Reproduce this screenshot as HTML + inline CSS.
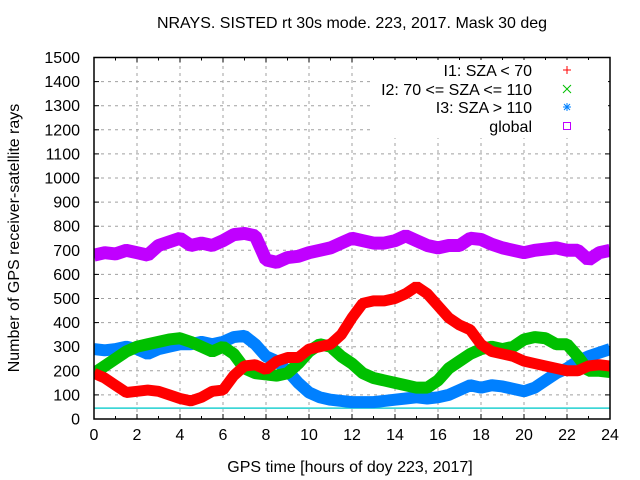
<!DOCTYPE html>
<html><head><meta charset="utf-8"><style>
body{margin:0;background:#fff}
svg{display:block;font-family:"Liberation Sans",sans-serif;font-size:16px}
</style></head><body>
<svg id="chart" width="640" height="480" xmlns="http://www.w3.org/2000/svg"></svg>
<script>
const hours=[0,0.5,1,1.5,2,2.5,3,3.5,4,4.5,5,5.5,6,6.5,7,7.5,8,8.5,9,9.5,10,10.5,11,11.5,12,12.5,13,13.5,14,14.5,15,15.5,16,16.5,17,17.5,18,18.5,19,19.5,20,20.5,21,21.5,22,22.5,23,23.5,24];
const i1=[190,170,140,110,115,120,115,100,85,75,90,115,120,180,220,225,205,240,255,255,290,300,310,350,420,480,490,490,500,520,550,520,470,420,390,370,310,280,270,260,240,230,220,210,200,200,220,225,220];
const i2=[190,220,250,280,300,310,320,330,335,320,300,280,300,270,210,190,185,180,190,230,280,310,300,260,230,190,170,160,150,140,130,130,160,210,240,270,290,300,290,300,330,340,335,310,310,260,200,200,195];
const i3=[290,285,290,300,290,270,290,300,310,310,320,310,320,340,345,310,260,240,200,150,110,90,80,75,70,70,70,75,80,85,90,85,90,100,120,140,130,140,135,125,115,130,160,190,210,240,260,275,290];
const globalRays=[680,690,685,700,690,680,720,735,750,720,730,720,740,765,770,760,660,650,670,675,690,700,710,730,750,740,730,730,740,760,740,720,710,720,720,750,745,725,710,700,690,700,705,710,700,700,660,690,700];
const maskLevel=[45,45];
const maskHours=[0,24];
const xTicks=[0,2,4,6,8,10,12,14,16,18,20,22,24];
const yTicks=[0,100,200,300,400,500,600,700,800,900,1000,1100,1200,1300,1400,1500];

const NS="http://www.w3.org/2000/svg";
const svg=document.getElementById('chart');
const X0=94,X1=610,Y0=419,Y1=57.5;
function xs(v){return X0+(v/24)*(X1-X0);}
function ys(v){return Y0-(v/1500)*(Y0-Y1);}
function mk(tag,attrs,parent){const e=document.createElementNS(NS,tag);for(const k in attrs)e.setAttribute(k,attrs[k]);(parent||svg).appendChild(e);return e;}

const defs=mk('defs',{});
const cp=mk('clipPath',{id:'plotclip'},defs);
mk('rect',{x:X0,y:Y1,width:X1-X0,height:Y0-Y1},cp);

yTicks.forEach(v=>{
  if(v>0&&v<1500){const g=mk('line',{x1:X0,x2:X1,y1:ys(v),y2:ys(v),stroke:'#a0a0a0','stroke-dasharray':'3,4','stroke-width':1});
  
  }
  const t=mk('text',{x:80,y:ys(v)+5.5,'text-anchor':'end'});t.textContent=v;
  
  
  mk('line',{x1:X0,x2:X0+5,y1:ys(v),y2:ys(v),stroke:'#000'});
  mk('line',{x1:X1,x2:X1-5,y1:ys(v),y2:ys(v),stroke:'#000'});
});
xTicks.forEach(v=>{
  if(v>0&&v<24){const g=mk('line',{x1:xs(v),x2:xs(v),y1:Y0,y2:Y1,stroke:'#a0a0a0','stroke-dasharray':'3,4','stroke-width':1});
  
  }
  const t=mk('text',{x:xs(v),y:Y0+21,'text-anchor':'middle'});t.textContent=v;
  
  
  mk('line',{x1:xs(v),x2:xs(v),y1:Y0,y2:Y0-5,stroke:'#000'});
  mk('line',{x1:xs(v),x2:xs(v),y1:Y1,y2:Y1+5,stroke:'#000'});
});
for(let v=1;v<24;v+=2){mk('line',{x1:xs(v),x2:xs(v),y1:Y0,y2:Y0-3,stroke:'#000'});mk('line',{x1:xs(v),x2:xs(v),y1:Y1,y2:Y1+3,stroke:'#000'});}

const plotG=mk('g',{'clip-path':'url(#plotclip)'});
function series(xsArr,vals,color,w,name){
  const p=mk('polyline',{points:vals.map((v,i)=>xs(xsArr[i])+','+ys(v)).join(' '),fill:'none',stroke:color,'stroke-width':w,'stroke-linejoin':'bevel','stroke-linecap':'butt'},plotG);
  
  
}
series(maskHours,maskLevel,'#20d0d0',1.5,'mask-line');
series(hours,globalRays,'#c000ff',13,'series-global');
series(hours,i3,'#0080ff',12,'series-i3');
series(hours,i2,'#00c000',12,'series-i2');
series(hours,i1,'#ff0000',11,'series-i1');

const lg=mk('g',{});


mk('rect',{x:370,y:60,width:238,height:78,fill:'#fff'},lg);
const labels=['I1: SZA < 70','I2: 70 <= SZA <= 110','I3: SZA > 110','global'];
const lcols=['#ff0000','#00c000','#0080ff','#c000ff'];
const rowY=[70,89,107,126];
labels.forEach((l,i)=>{
  const t=mk('text',{x:532,y:rowY[i]+6,'text-anchor':'end'},lg);t.textContent=l;
  
  
  const cx=567,cy=rowY[i],c=lcols[i];
  if(i===0){mk('path',{d:`M${cx-4} ${cy}H${cx+4}M${cx} ${cy-4}V${cy+4}`,stroke:c},lg);}
  else if(i===1){mk('path',{d:`M${cx-4} ${cy-4}L${cx+4} ${cy+4}M${cx-4} ${cy+4}L${cx+4} ${cy-4}`,stroke:c},lg);}
  else if(i===2){mk('path',{d:`M${cx-4} ${cy}H${cx+4}M${cx} ${cy-4}V${cy+4}M${cx-3} ${cy-3}L${cx+3} ${cy+3}M${cx-3} ${cy+3}L${cx+3} ${cy-3}`,stroke:c},lg);}
  else {mk('rect',{x:cx-3.5,y:cy-3.5,width:7,height:7,fill:'none',stroke:c},lg);}
});

const b=mk('rect',{x:X0,y:Y1,width:X1-X0,height:Y0-Y1,fill:'none',stroke:'#000','stroke-width':1.5});



const tt=mk('text',{x:352,y:28,'text-anchor':'middle'});tt.textContent='NRAYS. SISTED rt 30s mode. 223, 2017. Mask 30 deg';


const xt=mk('text',{x:350,y:472,'text-anchor':'middle'});xt.textContent='GPS time [hours of doy 223, 2017]';


const yt=mk('text',{x:0,y:0,'text-anchor':'middle',transform:'translate(19,238) rotate(-90)'});yt.textContent='Number of GPS receiver-satellite rays';


</script>
</body></html>
